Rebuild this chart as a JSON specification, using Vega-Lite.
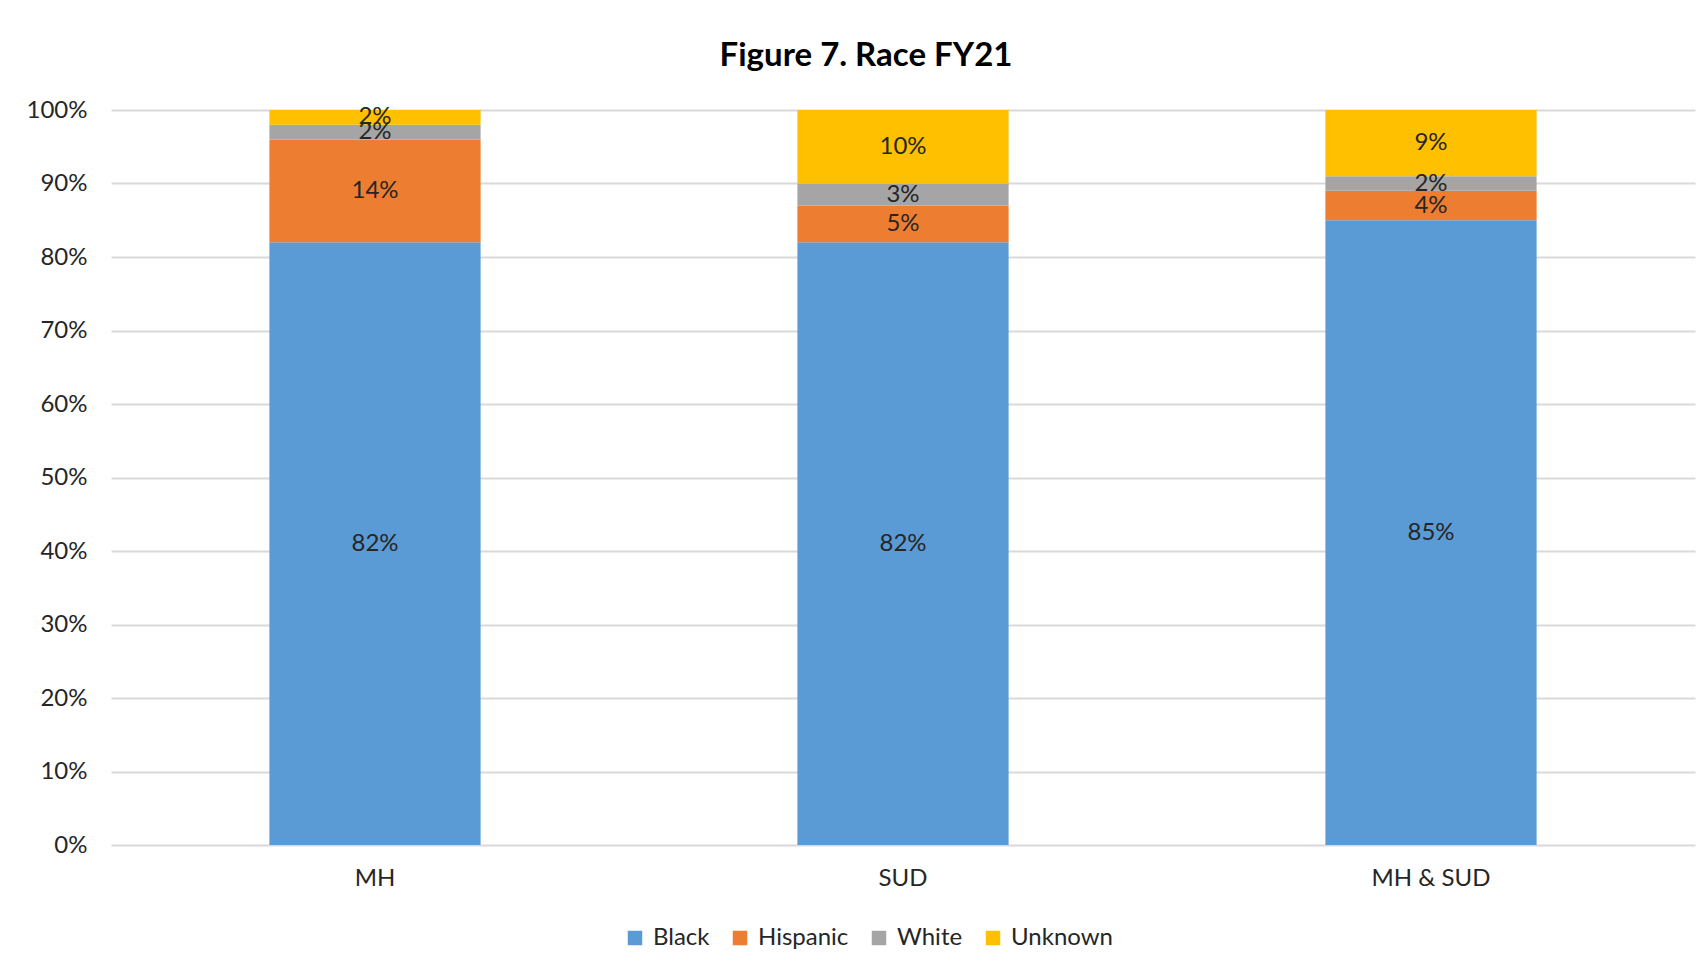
{
  "$schema": "https://vega.github.io/schema/vega-lite/v6.json",
  "width": 1584,
  "height": 735,
  "autosize": "none",
  "padding": {"left": 111, "top": 110, "right": 13, "bottom": 130},
  "background": "white",
  "title": {
    "text": "Figure 7. Race FY21",
    "font": "Lato",
    "fontSize": 33,
    "fontWeight": "bold",
    "color": "#000000",
    "anchor": "middle",
    "dx": -37,
    "offset": 25
  },
  "data": {
    "values": [
      {"group": "MH", "race": "Black", "value": 0.82},
      {"group": "MH", "race": "Hispanic", "value": 0.14},
      {"group": "MH", "race": "White", "value": 0.02},
      {"group": "MH", "race": "Unknown", "value": 0.02},
      {"group": "SUD", "race": "Black", "value": 0.82},
      {"group": "SUD", "race": "Hispanic", "value": 0.05},
      {"group": "SUD", "race": "White", "value": 0.03},
      {"group": "SUD", "race": "Unknown", "value": 0.10},
      {"group": "MH & SUD", "race": "Black", "value": 0.85},
      {"group": "MH & SUD", "race": "Hispanic", "value": 0.04},
      {"group": "MH & SUD", "race": "White", "value": 0.02},
      {"group": "MH & SUD", "race": "Unknown", "value": 0.09}
    ]
  },
  "transform": [
    {"calculate": "indexof(['Black','Hispanic','White','Unknown'], datum.race)", "as": "k"},
    {"stack": "value", "groupby": ["group"], "sort": [{"field": "k", "order": "ascending"}], "as": ["v0", "v1"]},
    {"calculate": "(datum.v0 + datum.v1) / 2", "as": "mid"}
  ],
  "encoding": {
    "x": {
      "field": "group",
      "type": "nominal",
      "sort": ["MH", "SUD", "MH & SUD"],
      "scale": {"paddingInner": 0.6, "paddingOuter": 0.3},
      "axis": {
        "title": null,
        "labelAngle": 0,
        "labelFont": "Lato",
        "labelFontSize": 24,
        "labelColor": "#262626",
        "labelPadding": 21,
        "ticks": false,
        "domain": false,
        "grid": false
      }
    }
  },
  "layer": [
    {
      "mark": {"type": "bar"},
      "encoding": {
        "y": {
          "field": "v0",
          "type": "quantitative",
          "scale": {"domain": [0, 1]},
          "axis": {
            "title": null,
            "format": ".0%",
            "values": [0, 0.1, 0.2, 0.3, 0.4, 0.5, 0.6, 0.7, 0.8, 0.9, 1.0],
            "labelOverlap": false,
            "labelFont": "Lato",
            "labelFontSize": 24,
            "labelColor": "#262626",
            "labelPadding": 24,
            "ticks": false,
            "domain": false,
            "grid": true,
            "gridColor": "#D9D9D9",
            "gridWidth": 2
          }
        },
        "y2": {"field": "v1"},
        "color": {
          "field": "race",
          "type": "nominal",
          "scale": {
            "domain": ["Black", "Hispanic", "White", "Unknown"],
            "range": ["#5B9BD5", "#ED7D31", "#A5A5A5", "#FFC000"]
          },
          "legend": {
            "title": null,
            "orient": "none",
            "direction": "horizontal",
            "legendX": 512,
            "legendY": 816,
            "symbolType": "square",
            "symbolSize": 210,
            "symbolStrokeWidth": 0,
            "symbolOpacity": 1,
            "labelFont": "Lato",
            "labelFontSize": 24,
            "labelColor": "#262626",
            "labelOffset": 6,
            "columnPadding": 18
          }
        }
      }
    },
    {
      "mark": {"type": "text", "font": "Lato", "fontSize": 24, "color": "#262626", "baseline": "middle"},
      "encoding": {
        "y": {"field": "mid", "type": "quantitative"},
        "text": {"field": "value", "type": "quantitative", "format": ".0%"}
      }
    }
  ],
  "config": {
    "view": {"stroke": null}
  }
}
